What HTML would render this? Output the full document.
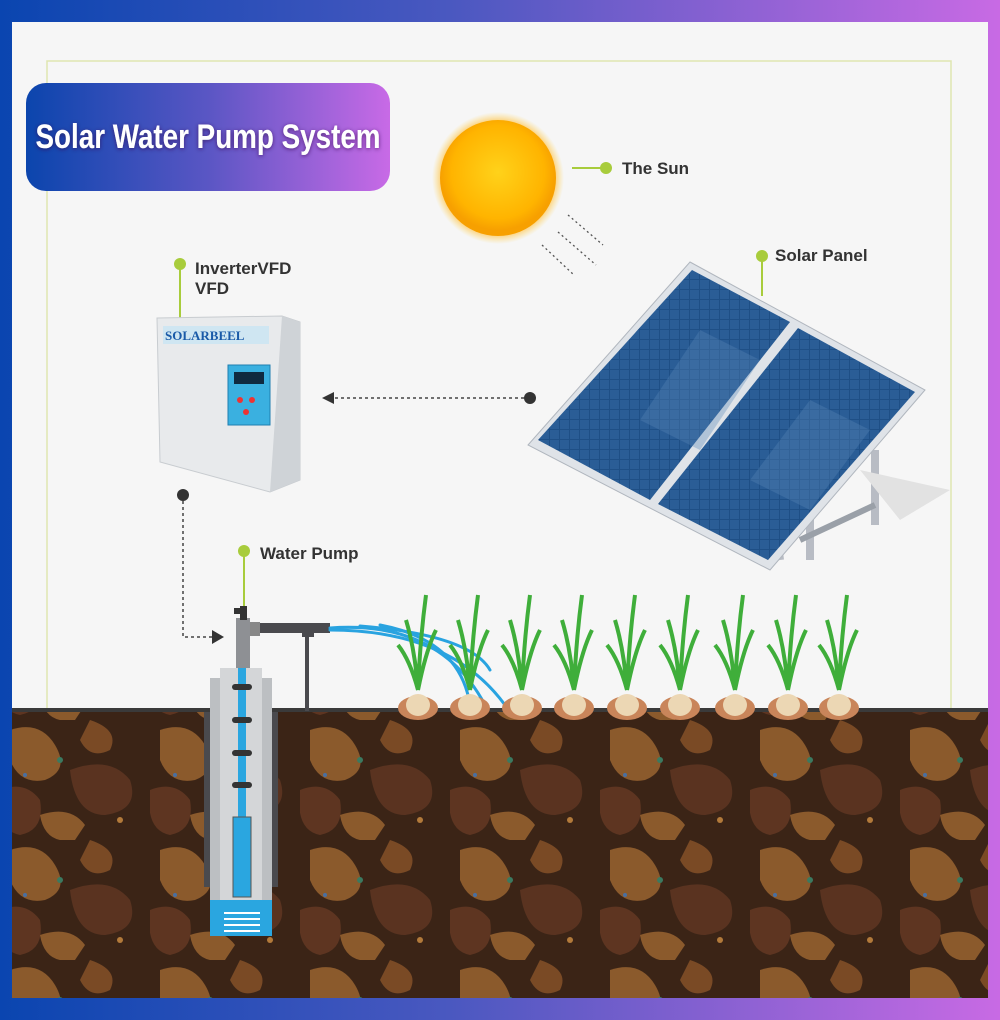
<!DOCTYPE html>
<html><head><meta charset="utf-8"><style>
html,body{margin:0;padding:0;width:1000px;height:1020px;overflow:hidden}
body{background:linear-gradient(90deg,#0a45b0,#4a58c0 45%,#c86ae4)}
</style></head><body>
<svg width="1000" height="1020" viewBox="0 0 1000 1020" xmlns="http://www.w3.org/2000/svg" style="position:absolute;left:0;top:0">
<defs>
<linearGradient id="tg" x1="0" x2="1"><stop offset="0" stop-color="#0b45ad"/><stop offset=".5" stop-color="#5a56c4"/><stop offset="1" stop-color="#c86ae6"/></linearGradient>
<radialGradient id="sun" cx=".5" cy=".45" r=".5"><stop offset="0" stop-color="#ffd21a"/><stop offset=".8" stop-color="#ffb400"/><stop offset="1" stop-color="#f7a000"/></radialGradient>
<radialGradient id="glow" cx=".5" cy=".5" r=".5"><stop offset=".82" stop-color="#ffb93a" stop-opacity=".9"/><stop offset="1" stop-color="#ffd760" stop-opacity="0"/></radialGradient>
<filter id="sh"><feDropShadow dx="0" dy="1" stdDeviation="2" flood-color="#301050" flood-opacity=".7"/></filter>
<pattern id="soil" width="150" height="120" patternUnits="userSpaceOnUse">
<rect width="150" height="120" fill="#3b2416"/>
<path d="M10 10 q30 -10 45 15 q15 25 -10 35 q-25 5 -35 -20 z" fill="#8b5a2c"/>
<path d="M70 50 q40 -15 60 10 q10 30 -25 35 q-30 0 -35 -45 z" fill="#5a3320"/>
<path d="M90 0 q30 10 20 30 q-20 10 -30 -10 z" fill="#7a4a25"/>
<path d="M0 70 q25 -10 40 10 q5 30 -20 35 q-25 -5 -20 -45 z" fill="#5e3521"/>
<path d="M40 95 q30 -10 45 10 l-10 15 q-30 5 -35 -25z" fill="#8b5a2c"/>
<circle cx="60" cy="40" r="3" fill="#3b7a60"/><circle cx="120" cy="100" r="3" fill="#b27a3a"/><circle cx="25" cy="55" r="2" fill="#4a6fa0"/>
</pattern>
<pattern id="cells" width="10" height="10" patternUnits="userSpaceOnUse"><rect width="10" height="10" fill="#1e4f86"/><rect width="9" height="9" fill="#2a5d96"/></pattern>
</defs>
<rect x="12" y="22" width="976" height="976" fill="#f6f6f6"/>
<rect x="47" y="61" width="904" height="906" fill="none" stroke="#dfe6b0" stroke-width="1.5"/>
<rect x="12" y="710" width="976" height="288" fill="url(#soil)"/>
<rect x="12" y="708" width="976" height="4" fill="#3a3a3a"/>
<rect x="26" y="83" width="364" height="108" rx="20" fill="url(#tg)"/>
<text x="208" y="148" text-anchor="middle" font-family="Liberation Sans Narrow,Liberation Sans,sans-serif" font-weight="bold" font-size="34" fill="#fff" textLength="345" lengthAdjust="spacingAndGlyphs" filter="url(#sh)">Solar Water Pump System</text>
<circle cx="498" cy="178" r="66" fill="url(#glow)"/>
<circle cx="498" cy="178" r="58" fill="url(#sun)"/>
<g stroke="#555" stroke-dasharray="2 3" stroke-width="1.3" fill="none">
<path d="M568 215 l35 30"/><path d="M558 232 l38 33"/><path d="M542 245 l32 30"/>
</g>
<line x1="572" y1="168" x2="606" y2="168" stroke="#a8cc3c" stroke-width="2"/><circle cx="606" cy="168" r="6" fill="#a8cc3c"/>
<text x="622" y="174" font-family="Liberation Sans,sans-serif" font-weight="bold" font-size="17" fill="#333">The Sun</text>
<g>
<path d="M775 520 L780 560 M810 510 L810 560 M875 450 L875 525" stroke="#b8bcc4" stroke-width="8"/>
<path d="M800 540 L875 505" stroke="#9aa0a8" stroke-width="6"/>
<path d="M860 470 L950 490 L900 520 Z" fill="#e2e2e2"/>
<path d="M690 262 L925 390 L770 570 L528 445 Z" fill="#dfe3e8" stroke="#b0b6be"/>
<path d="M692 270 L790 322 L650 500 L538 440 Z" fill="url(#cells)"/>
<path d="M798 328 L915 392 L768 560 L658 504 Z" fill="url(#cells)"/>
<path d="M700 330 L760 360 L700 450 L640 420Z" fill="#5a86b8" opacity=".35"/>
<path d="M810 400 L870 430 L810 510 L750 480Z" fill="#5a86b8" opacity=".35"/>
</g>
<line x1="762" y1="256" x2="762" y2="296" stroke="#a8cc3c" stroke-width="2"/><circle cx="762" cy="256" r="6" fill="#a8cc3c"/>
<text x="775" y="261" font-family="Liberation Sans,sans-serif" font-weight="bold" font-size="17" fill="#333">Solar Panel</text>
<line x1="530" y1="398" x2="332" y2="398" stroke="#444" stroke-width="1.5" stroke-dasharray="3 3"/>
<circle cx="530" cy="398" r="6" fill="#333"/><path d="M322 398 l12 -6 v12z" fill="#333"/>
<line x1="180" y1="264" x2="180" y2="320" stroke="#a8cc3c" stroke-width="2"/><circle cx="180" cy="264" r="6" fill="#a8cc3c"/>
<text x="195" y="274" font-family="Liberation Sans,sans-serif" font-weight="bold" font-size="17" fill="#333">InverterVFD</text>
<text x="195" y="294" font-family="Liberation Sans,sans-serif" font-weight="bold" font-size="17" fill="#333">VFD</text>
<path d="M157 318 L282 316 L300 322 L300 480 L270 492 L160 462 Z" fill="#e8eaec" stroke="#c8ccd0"/>
<path d="M282 316 L300 322 L300 480 L270 492 Z" fill="#cfd3d7"/>
<rect x="163" y="326" width="106" height="18" fill="#cfe6f2"/>
<text x="165" y="340" font-family="Liberation Serif,serif" font-weight="bold" font-size="13" fill="#1a5aa8">SOLARBEEL</text>
<rect x="228" y="365" width="42" height="60" fill="#3ab0e0" stroke="#1f7fb0"/>
<rect x="234" y="372" width="30" height="12" fill="#0f2a40"/>
<circle cx="240" cy="400" r="3" fill="#e33"/><circle cx="252" cy="400" r="3" fill="#e33"/><circle cx="246" cy="412" r="3" fill="#e33"/>
<circle cx="183" cy="495" r="6" fill="#333"/>
<path d="M183 501 V637 H212" stroke="#444" stroke-width="1.5" stroke-dasharray="3 3" fill="none"/>
<path d="M224 637 l-12 -7 v14z" fill="#333"/>
<line x1="244" y1="551" x2="244" y2="610" stroke="#a8cc3c" stroke-width="2"/><circle cx="244" cy="551" r="6" fill="#a8cc3c"/>
<text x="260" y="559" font-family="Liberation Sans,sans-serif" font-weight="bold" font-size="17" fill="#333">Water Pump</text>
<rect x="204" y="712" width="74" height="175" fill="#4a4a4e"/>
<rect x="210" y="678" width="62" height="258" fill="#bcbfc2"/>
<rect x="220" y="668" width="42" height="268" fill="#d4d6d8"/>
<rect x="210" y="900" width="62" height="36" fill="#2aa6e0"/>
<g fill="#fff"><rect x="224" y="912" width="36" height="2"/><rect x="224" y="918" width="36" height="2"/><rect x="224" y="924" width="36" height="2"/><rect x="224" y="930" width="36" height="2"/></g>
<rect x="238" y="666" width="8" height="160" fill="#2aa6e0"/>
<rect x="233" y="817" width="18" height="80" fill="#2aa6e0" stroke="#555"/>
<g fill="#333"><rect x="232" y="684" width="20" height="6" rx="3"/><rect x="232" y="717" width="20" height="6" rx="3"/><rect x="232" y="750" width="20" height="6" rx="3"/><rect x="232" y="782" width="20" height="6" rx="3"/></g>
<rect x="236" y="618" width="14" height="50" fill="#8e9094"/>
<rect x="240" y="606" width="7" height="14" fill="#333"/><rect x="234" y="608" width="6" height="6" fill="#333"/>
<rect x="250" y="622" width="10" height="14" fill="#888"/>
<rect x="260" y="623" width="70" height="10" fill="#4a4a4e"/>
<rect x="302" y="633" width="12" height="4" fill="#4a4a4e"/><rect x="305" y="633" width="4" height="78" fill="#4a4a4e"/>
<g fill="none" stroke="#29a3e0" stroke-width="3" stroke-linecap="round">
<path d="M330 628 Q440 620 485 705"/><path d="M330 630 Q450 630 505 705"/><path d="M360 626 Q470 635 490 670"/><path d="M380 625 Q460 640 470 705"/>
</g>
<g id="p">
<path d="M418 690 q-3 -40 -12 -70 M418 690 q2 -50 8 -95 M418 690 q8 -40 18 -60 M418 690 q-8 -30 -20 -45" stroke="#3fae3a" stroke-width="4" fill="none"/>
<ellipse cx="418" cy="708" rx="20" ry="12" fill="#c9855a"/>
<ellipse cx="418" cy="705" rx="12" ry="11" fill="#ecd7b4"/>
</g>
<use href="#p" x="52"/><use href="#p" x="104"/><use href="#p" x="156"/><use href="#p" x="209"/><use href="#p" x="262"/><use href="#p" x="317"/><use href="#p" x="370"/><use href="#p" x="421"/>
</svg>
</body></html>
